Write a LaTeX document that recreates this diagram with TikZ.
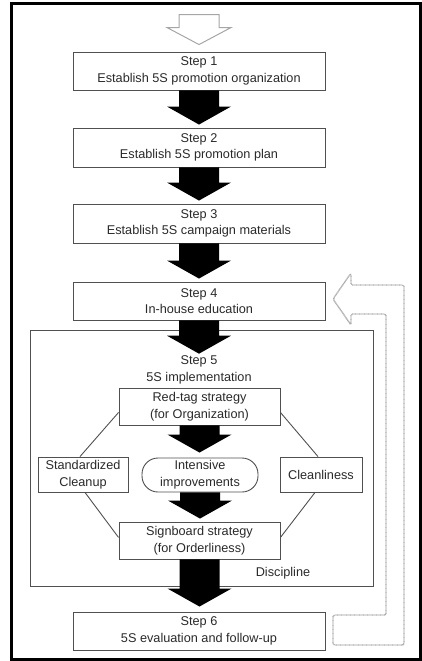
\documentclass[tikz,border=0pt]{standalone}
\usepackage{fontspec}
\setmainfont{Liberation Sans}
\usetikzlibrary{calc}
\definecolor{txt}{HTML}{2A2A2A}
\definecolor{edge}{HTML}{505050}
\tikzset{
  box/.style={draw=edge, line width=0.9pt, fill=white, align=center, inner sep=0pt,
    text=txt, font=\fontsize{12.7}{16.7}\selectfont},
  lbl/.style={align=center, inner sep=0pt, text=txt, font=\fontsize{12.7}{16.7}\selectfont},
  link/.style={draw=edge, line width=0.9pt},
  fatfill/.style={fill=black},
  hollow/.style={draw=gray!70, line width=1pt, line join=miter},
  feedback/.style={draw=gray!65, line width=1.4pt, dash pattern=on 0.8pt off 0.5pt, rounded corners=1.5pt}
}
\newcommand\fatarrow[3][3]{%
  \fill[fatfill] let \p1=(#2.south), \p2=(#3.north) in
    (\x1-20pt,\y1) -- (\x1+20pt,\y1) -- (\x1+20pt,\y2+#1pt+18pt) -- (\x1+32pt,\y2+#1pt+18pt)
    -- (\x1,\y2+#1pt) -- (\x1-32pt,\y2+#1pt+18pt) -- (\x1-20pt,\y2+#1pt+18pt) -- cycle;}
\begin{document}
\begin{tikzpicture}[x=1pt,y=-1pt]
\useasboundingbox (0,0) rectangle (422,661);
\draw[line width=3pt] (11,4) rectangle (420,659);

% Step 5 frame
\draw[draw=edge, line width=0.9pt] (30,330) rectangle (373,586);

\node[box, minimum width=252pt, minimum height=38pt] (s1) at (199,71) {Step 1\\Establish 5S promotion organization};
\node[box, minimum width=252pt, minimum height=39pt] (s2) at (199,147.5) {Step 2\\Establish 5S promotion plan};
\node[box, minimum width=252pt, minimum height=39pt] (s3) at (199,223.5) {Step 3\\Establish 5S campaign materials};
\node[box, minimum width=252pt, minimum height=38pt] (s4) at (199,301) {Step 4\\In-house education};
\node[lbl] (s5) at (199,370) {Step 5\\5S implementation};
\node[box, minimum width=161pt, minimum height=37pt] (rt) at (199.5,406.5) {Red-tag strategy\\(for Organization)};
\node[box, minimum width=90pt, minimum height=35pt] (sc) at (83,474.5) {Standardized\\Cleanup};
\node[box, minimum width=116pt, minimum height=34pt, rounded corners=16pt] (ii) at (200,475) {Intensive\\improvements};
\node[box, minimum width=82pt, minimum height=35pt] (cl) at (321,474.5) {Cleanliness};
\node[box, minimum width=161pt, minimum height=37pt] (sb) at (199.5,540.5) {Signboard strategy\\(for Orderliness)};
\node[lbl] (dis) at (283,573) {Discipline};
\node[box, minimum width=252pt, minimum height=38pt] (s6) at (199,631) {Step 6\\5S evaluation and follow-up};

% octagon links
\draw[link] ($(rt.south west)+(0pt,13pt)$) -- ($(sc.north)+(-3pt,0pt)$);
\draw[link] ($(rt.south east)+(0pt,13pt)$) -- ($(cl.north)+(-3pt,0pt)$);
\draw[link] ($(sc.south)+(2pt,0pt)$) -- ($(sb.south west)+(0pt,22pt)$);
\draw[link] ($(cl.south)+(-6pt,0pt)$) -- ($(sb.south east)+(0pt,22pt)$);

% fat arrows
\fatarrow{s1}{s2}
\fatarrow{s2}{s3}
\fatarrow{s3}{s4}
\fatarrow[2]{s4}{s5}
\fatarrow[5]{rt}{ii}
\fatarrow{ii}{sb}
\fatarrow[5]{sb}{s6}

% top hollow arrow
\coordinate (tip) at ($(s1.north)+(0pt,7pt)$);
\draw[hollow] ($(tip)+(-20pt,30pt)$) -- ($(tip)+(20pt,30pt)$) -- ($(tip)+(20pt,17pt)$)
  -- ($(tip)+(32pt,17pt)$) -- (tip) -- ($(tip)+(-32pt,17pt)$) -- ($(tip)+(-20pt,17pt)$) -- cycle;

% feedback arrow
\draw[feedback] (333,615) -- (386,615) -- (386,314) -- (351,314) -- (351,325)
  -- (333,299) -- (351,273) -- (351,285) -- (404,285) -- (404,645) -- (333,645) -- cycle;
\end{tikzpicture}
\end{document}
